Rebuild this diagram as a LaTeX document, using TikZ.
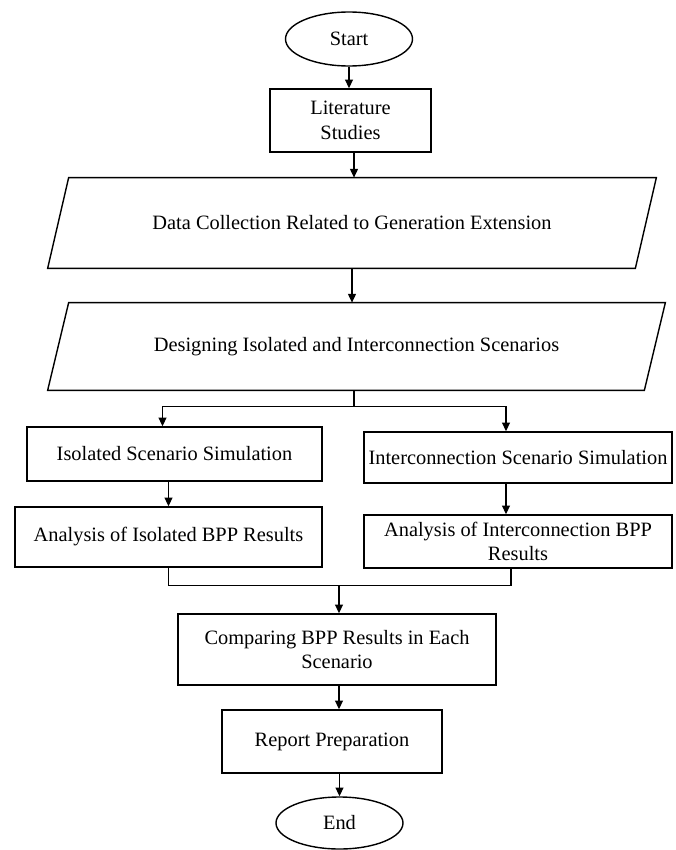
\documentclass[tikz,border=0pt]{standalone}
\usepackage{fontspec}
\setmainfont{Liberation Serif}
\usetikzlibrary{arrows.meta, positioning, shapes.geometric, calc}

\begin{document}
\begin{tikzpicture}[
    every node/.style={font=\fontsize{11.6}{14}\selectfont},
    terminal/.style={draw, ellipse, line width=0.8pt, minimum width=2.54cm, minimum height=1.08cm, inner sep=1pt},
    process/.style={draw, rectangle, line width=0.8pt, align=center, inner sep=2pt},
    dataio/.style={rectangle, inner sep=2pt},
    slant/.style={line width=0.8pt, line join=miter},
    arrow/.style={-{Triangle[length=5pt, width=4.5pt]}, line width=0.8pt},
    link/.style={line width=0.8pt}
]
\useasboundingbox (0,0) rectangle (13.5,-17);

% Top of the chart
\node[terminal] (start) at (6.98, -0.78) {Start};
\node[process, minimum width=3.22cm, minimum height=1.26cm] (lit) at (7.01, -2.41) {Literature\\Studies};
\node[dataio, minimum width=11.74cm, minimum height=1.8cm] (data) at (7.04, -4.46) {Data Collection Related to Generation Extension};
\node[dataio, minimum width=11.92cm, minimum height=1.74cm] (design) at (7.13, -6.93) {Designing Isolated and Interconnection Scenarios};

% Parallelogram outlines
\draw[slant] ([xshift=0.21cm]data.north west) -- ([xshift=0.21cm]data.north east)
    -- ([xshift=-0.21cm]data.south east) -- ([xshift=-0.21cm]data.south west) -- cycle;
\draw[slant] ([xshift=0.21cm]design.north west) -- ([xshift=0.21cm]design.north east)
    -- ([xshift=-0.21cm]design.south east) -- ([xshift=-0.21cm]design.south west) -- cycle;

% Two scenario branches
\node[process, minimum width=5.9cm, minimum height=1.08cm] (iso) at (3.49, -9.08) {Isolated Scenario Simulation};
\node[process, minimum width=6.16cm, minimum height=1.02cm] (inter) at (10.36, -9.15) {Interconnection Scenario Simulation};
\node[process, minimum width=6.14cm, minimum height=1.2cm] (isores) at (3.37, -10.74) {Analysis of Isolated BPP Results};
\node[process, minimum width=6.16cm, minimum height=1.06cm] (interres) at (10.36, -10.83) {Analysis of Interconnection BPP\\Results};

% Bottom of the chart
\node[process, minimum width=6.36cm, minimum height=1.42cm] (compare) at (6.74, -12.99) {Comparing BPP Results in Each\\Scenario};
\node[process, minimum width=4.4cm, minimum height=1.26cm] (report) at (6.64, -14.83) {Report Preparation};
\node[terminal, minimum height=1.04cm] (end) at (6.79, -16.46) {End};

% Arrows
\draw[arrow] (start.south) -- (start.south |- lit.north);
\draw[arrow] ([xshift=0.07cm]lit.south) -- ([xshift=0.07cm]lit.south |- data.north);
\draw[arrow] (data.south) -- (data.south |- design.north);

\draw[link] ([xshift=-0.05cm]design.south) -- ++(0,-0.32) coordinate (split);
\draw[arrow] (split) -| ([xshift=-0.24cm]iso.north);
\draw[arrow] (split) -| ([xshift=-0.24cm]inter.north);

\draw[arrow] (isores.north |- iso.south) -- (isores.north);
\draw[arrow] ([xshift=-0.24cm]inter.south) -- ([xshift=-0.24cm]interres.north);

\coordinate (join) at ($(compare.north)+(0.04,0.56)$);
\draw[link] (isores.south) |- (join) -| ([xshift=-0.14cm]interres.south);
\draw[arrow] (join) -- (join |- compare.north);

\draw[arrow] ([xshift=0.04cm]compare.south) -- ([xshift=0.04cm]compare.south |- report.north);
\draw[arrow] (end.north |- report.south) -- (end.north);

\end{tikzpicture}
\end{document}
